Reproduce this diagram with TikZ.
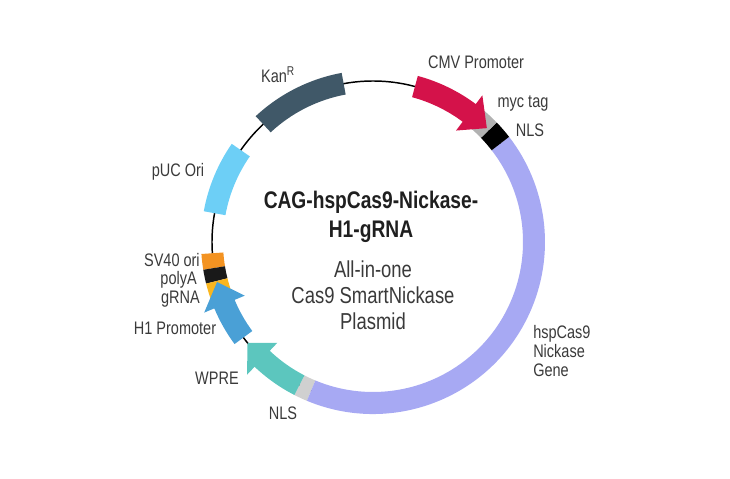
\documentclass[tikz,border=0pt]{standalone}
\usepackage{fontspec}
\setmainfont{Liberation Sans}[FakeStretch=0.8]
\definecolor{kanc}{RGB}{64,88,104}
\definecolor{cmvc}{RGB}{212,18,74}
\definecolor{mycc}{RGB}{178,178,178}
\definecolor{casc}{RGB}{167,169,243}
\definecolor{nlsc}{RGB}{208,208,208}
\definecolor{wprec}{RGB}{92,198,190}
\definecolor{hone}{RGB}{74,160,214}
\definecolor{grnac}{RGB}{250,182,30}
\definecolor{sv40c}{RGB}{243,147,34}
\definecolor{pucc}{RGB}{109,207,246}
\definecolor{txt}{RGB}{58,58,58}
\tikzset{lbl/.style={text=txt,inner sep=0pt,font=\fontsize{13.6}{14.3}\selectfont}}
\begin{document}
\begin{tikzpicture}[x=.75pt,y=.75pt]
\useasboundingbox (-373,-236) rectangle (357,242);
\draw[black,line width=1.1pt] (0,0) circle[radius=161];
% plain segments
\foreach \a/\b/\c in {100.5/133/kanc,145.2/169.7/pucc,184/189.3/sv40c,189.3/194/black!90,194/199/grnac,242.8/247.4/nlsc,247.4/397.7/casc,37.7/44/black,44/53/mycc}
  \fill[\c] (\a:172) arc[start angle=\a,end angle=\b,radius=172] -- (\b:150) arc[start angle=\b,end angle=\a,radius=150] -- cycle;
% arrows: tail/head/tip
\foreach \a/\h/\t/\c in {74.9/53.3/45/cmvc,242.8/226.5/218.8/wprec,216.4/202.7/194.4/hone}
  \fill[\c] (\a:172) arc[start angle=\a,end angle=\h,radius=172] -- (\h:183) -- (\t:161) -- (\h:139) -- (\h:150) arc[start angle=\h,end angle=\a,radius=150] -- cycle;
\node[lbl] (cmv) at (103,180) {CMV Promoter};
\node[lbl] (kan) at (-95,167) {Kan\textsuperscript{R}};
\node[lbl] (myc) at (150,138) {myc tag};
\node[lbl] (nlsa) at (157,112) {NLS};
\node[lbl] (puc) at (-195,70) {pUC Ori};
\node[lbl,anchor=east] (sv40) at (-173,-18.5) {SV40 ori};
\node[lbl,anchor=east] (polya) at (-176,-38) {polyA};
\node[lbl,anchor=east] (grna) at (-173,-57.5) {gRNA};
\node[lbl] (hprom) at (-198,-86) {H1 Promoter};
\node[lbl] (wpre) at (-156,-136) {WPRE};
\node[lbl] (nlsb) at (-90,-171) {NLS};
\node[lbl,anchor=west,align=left] (cas9) at (160,-109) {hspCas9\\Nickase\\Gene};
\node[inner sep=0pt,align=center,text=black!88,font=\fontsize{18}{21.8}\bfseries\selectfont] (title) at (-2,25) {CAG-hspCas9-Nickase-\\H1-gRNA};
\node[lbl,align=center,font=\fontsize{17.3}{19.5}\selectfont] (sub) at (0,-53) {All-in-one\\Cas9 SmartNickase\\Plasmid};
\end{tikzpicture}
\end{document}
